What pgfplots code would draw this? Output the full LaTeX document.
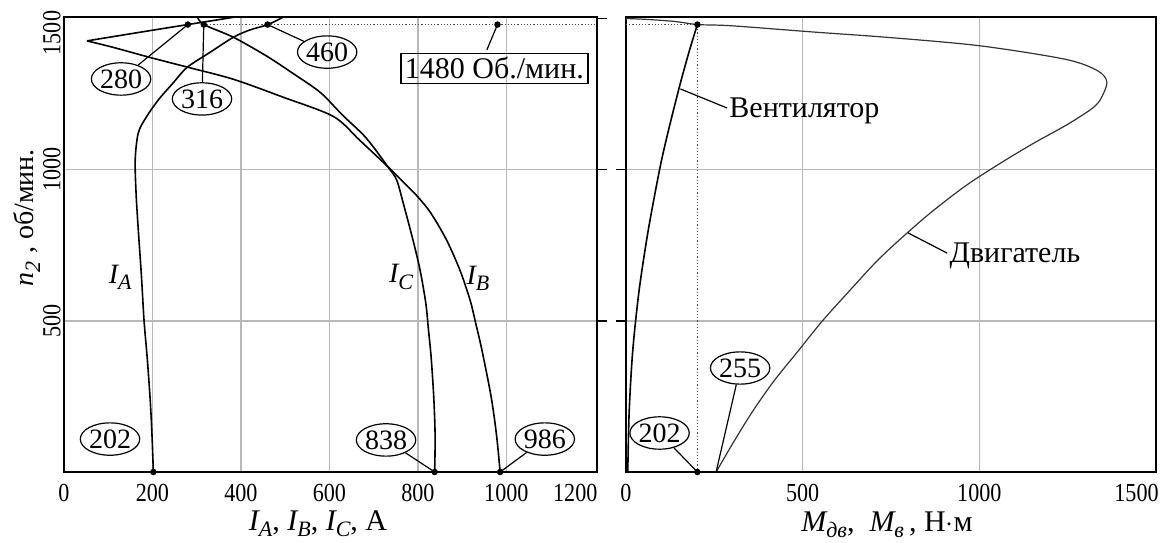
\documentclass[border=0pt]{standalone}
\usepackage{fontspec}
\setmainfont{Liberation Serif}
\newfontfamily\tickfont[FakeStretch=0.85]{Liberation Serif}
\usepackage{pgfplots}
\pgfplotsset{compat=1.18}
\usetikzlibrary{shapes.geometric}

\newcommand\fs[1]{\fontsize{#1}{#1}\selectfont}
\newcommand\sub[1]{\raisebox{-0.22em}{\fs{11}\itshape #1}}

\pgfplotsset{
  panel/.style={
    scale only axis, height=227.5pt,
    ymin=0, ymax=1505,
    axis line style={line width=1pt},
    grid=major, major grid style={black!28, line width=0.8pt},
    /pgf/number format/assume math mode=true,
    /pgf/number format/1000 sep={},
    tick label style={font=\tickfont\fs{13}},
    xticklabel style={inner sep=1pt},
    xtick style={draw=none},
    ytick={500,1000},
    tick align=outside, major tick length=5pt,
    ytick style={black, line width=0.8pt},
    extra x tick style={grid=none, xticklabel style={anchor=north east, xshift=2.5pt}},
  },
  curve/.style={black, line width=0.8pt, no marks},
  dot/.style={only marks, mark=*, mark size=1.4pt, black},
  guide/.style={black!70, densely dotted, line width=0.6pt, no marks},
}
\tikzset{
  callout/.style={draw, ellipse, line width=0.6pt, inner xsep=0pt, inner ysep=1pt, font=\fs{14}},
  lead/.style={line width=0.6pt},
}

\begin{document}
\begin{tikzpicture}
\path[use as bounding box] (0,0) rectangle (580.5pt,271pt);

% left panel: phase currents
\begin{axis}[panel, at={(32pt,35pt)}, anchor=south west, width=266.5pt,
    xmin=0, xmax=1205, xtick={0,200,...,1000}, extra x ticks={1200},
    ytick pos=right, yticklabel pos=left,
    yticklabel style={rotate=90, anchor=south, inner sep=1pt, yshift=-4.5pt},
    extra y ticks={1500},
    extra y tick style={grid=none, yticklabel style={anchor=south east, xshift=5pt}},
  ]
  \addplot[guide] coordinates {(316,1480) (1205,1480)};
  % I_A
  \addplot[curve, smooth] coordinates {
    (202,0) (199,120) (195,236) (188,380) (181,500) (175,650) (168,800)
    (163,920) (161,1033) (168,1122) (187,1176) (214,1232) (248,1289)
    (278,1338) (330,1388) (383,1438) (420,1462) (461,1480) (496,1505)};
  % I_B
  \addplot[curve, smooth] coordinates {
    (986,0) (978,120) (966,246) (945,402) (930,497) (918,569) (895,668)
    (865,767) (830,855) (800,910) (768,958) (732,1010) (668,1098)
    (609,1176) (495,1240) (383,1299) (290,1335) (195,1371) (110,1405)
    (52,1426)};
  \addplot[curve] coordinates {(52,1426) (165,1453) (280,1480) (383,1504)};
  % I_C
  \addplot[curve, smooth] coordinates {
    (838,0) (839,120) (836,246) (830,380) (824,470) (818,558) (805,668)
    (789,767) (767,889) (752,966) (732,1010) (683,1105) (630,1180)
    (579,1256) (516,1320) (459,1375) (383,1438) (316,1480) (302,1505)};
  \addplot[dot] coordinates {(280,1480) (316,1480) (460,1480) (980,1480)
    (202,0) (838,0) (986,0)};

  \node[callout] (a280) at (axis cs:129,1300) {280};
  \draw[lead] (axis cs:280,1480) -- (a280);
  \node[callout] (a316) at (axis cs:312,1234) {316};
  \draw[lead] (axis cs:316,1480) -- (a316);
  \node[callout] (a460) at (axis cs:595,1389) {460};
  \draw[lead] (axis cs:460,1480) -- (a460);
  \node[draw, line width=0.8pt, inner sep=2pt, font=\fs{15}] at (axis cs:973,1335) {1480 Об./мин.};
  \draw[lead] (axis cs:980,1480) -- (axis cs:956,1396);
  \node[callout] at (axis cs:104,109) {202};
  \node[callout] (a838) at (axis cs:728,106) {838};
  \draw[lead] (axis cs:838,0) -- (a838);
  \node[callout] (a986) at (axis cs:1087,109) {986};
  \draw[lead] (axis cs:986,0) -- (a986);

  \node[font=\fs{14}] at (axis cs:127,645) {{\itshape I}\sub{A}};
  \node[font=\fs{14}] at (axis cs:762,645) {{\itshape I}\sub{C}};
  \node[font=\fs{14}] at (axis cs:936,640) {{\itshape I}\sub{B}};
\end{axis}

% right panel: torques
\begin{axis}[panel, at={(313pt,35pt)}, anchor=south west, width=265pt,
    xmin=0, xmax=1500, xtick={0,500,1000}, extra x ticks={1500},
    ytick pos=left, yticklabels={},
  ]
  \addplot[guide] coordinates {(0,1480) (202,1480)};
  \addplot[guide] coordinates {(202,0) (202,1480)};
  % fan
  \addplot[curve, smooth] coordinates {
    (5,0) (9,200) (19,400) (37,600) (63,800) (95,1000) (114,1100)
    (135,1200) (157,1300) (181,1400) (202,1480)};
  % motor
  \addplot[black!80, line width=0.6pt, smooth, no marks] coordinates {
    (255,0) (305,100) (358,200) (418,300) (487,400) (556,500) (633,600)
    (712,700) (795,790) (872,867) (964,949) (1059,1021) (1153,1087)
    (1247,1148) (1315,1199) (1342,1231) (1361,1289) (1335,1327)
    (1244,1365) (1000,1410) (736,1438) (534,1455) (298,1476) (202,1480)
    (140,1490) (60,1497) (0,1500)};
  \addplot[dot] coordinates {(202,1480) (202,0)};

  \node[callout] (b202) at (axis cs:95,129) {202};
  \draw[lead] (axis cs:202,0) -- (b202);
  \node[callout] (b255) at (axis cs:323,344) {255};
  \draw[lead] (axis cs:255,0) -- (b255);
  \draw[lead] (axis cs:154,1267) -- (axis cs:286,1204);
  \node[anchor=west, inner sep=1pt, font=\fs{15}] at (axis cs:286,1196) {Вентилятор};
  \draw[lead] (axis cs:798,791) -- (axis cs:909,724);
  \node[anchor=west, inner sep=1pt, font=\fs{15}] at (axis cs:909,716) {Двигатель};
\end{axis}

% axis titles
\node[rotate=90, font=\fs{14}] at (13.5pt,162pt)
  {{\itshape n}\sub{2}\;,\ об/мин.};
\node[anchor=base, font=\fs{15}] at (159pt,6pt)
  {{\itshape I}\sub{A}, {\itshape I}\sub{B}, {\itshape I}\sub{C}, А};
\node[anchor=base, font=\fs{15}] at (443.5pt,5.5pt)
  {{\itshape M}\sub{дв},\ \ {\itshape M}\sub{в}\,, Н\(\cdot\)м};
\end{tikzpicture}
\end{document}
